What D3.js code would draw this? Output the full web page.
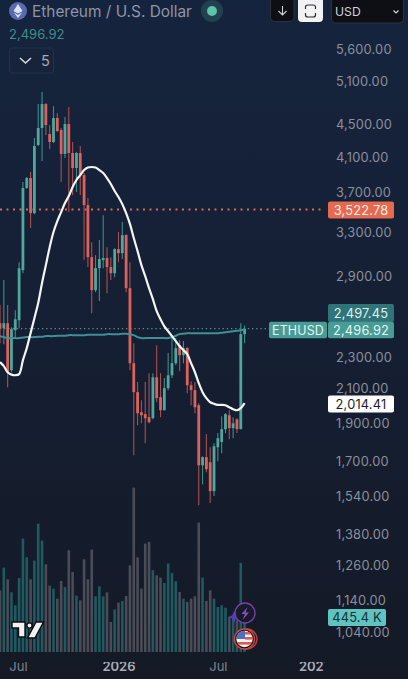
<!DOCTYPE html>
<html><head><meta charset="utf-8">
<script src="https://cdn.jsdelivr.net/npm/d3@7"></script>
<style>html,body{margin:0;padding:0;background:#141a28;overflow:hidden}svg{display:block}text{font-family:Inter,"Noto Sans",sans-serif}</style>
</head><body><div id="c"></div>
<script>
const opens=[2537,2500,2537,2215,2486,2559,2957,3749,3858,3486,4244,4458,4777,4381,4281,4588,4432,4135,4509,4147,3971,4147,3891,3568,3070,2791,2974,3044,3062,2983,2931,3142,3106,3272,2807,2260,2079,1962,1951,1934,1928,2170,2049,1973,2103,2183,2260,2381,2313,2361,2121,2091,2002,1683,1723,1698,1562,1773,1800,1868,1945,1874,1922,1868,2458];
const highs=[2673,2873,2673,2507,2634,3026,3814,3870,3925,4331,4777,4946,4791,4496,4749,4654,4458,4601,4736,4281,4159,4232,3914,3641,3206,3088,3225,3466,3160,3070,3151,3301,3398,3280,3026,2395,2140,2031,2140,2196,2196,2381,2196,2165,2327,2430,2430,2416,2409,2368,2146,2140,2014,1728,1842,1773,1794,1847,1939,1956,1973,1934,1928,2537,2521];
const lows=[2395,2388,2109,2202,2430,2500,2931,3738,3339,3476,4232,4052,4368,4195,4269,4406,3814,4088,3497,3673,3705,3673,3044,2983,2611,2775,2704,2974,2767,2873,2897,3026,3053,2775,2215,1733,1889,1900,1794,1900,1922,2019,1934,1973,2091,2165,2247,2209,2260,2073,2002,1956,1500,1593,1650,1509,1540,1703,1743,1847,1815,1820,1847,1868,2395];
const closes=[2500,2537,2202,2493,2566,2974,3749,3858,3486,4232,4458,4777,4496,4281,4588,4419,4135,4509,4147,3971,4147,3891,3568,3070,2791,2974,3053,3062,2983,2931,3142,3106,3272,2807,2260,2079,1956,1945,1928,1906,2170,2043,1973,2103,2183,2260,2361,2313,2361,2121,2091,1990,1683,1723,1664,1562,1778,1820,1868,1951,1874,1900,1868,2458,2496.92];
const volumesK=[808,1106,953,782,612,970,1486,1241,953,1197,1682,1460,1149,870,830,699,931,852,1333,1049,739,677,1215,953,1342,730,861,730,782,393,559,647,669,734,1136,2154,1241,830,1420,1442,1071,1005,975,905,1158,1036,926,787,699,656,699,730,1696,975,669,808,699,590,612,581,459,437,415,1167,445.4];
const whiteMA=[2267,2241,2202,2187,2183,2190,2280,2361,2465,2574,2690,2849,3000,3160,3301,3407,3497,3589,3662,3760,3836,3891,3948,3977,3983,3977,3948,3914,3858,3792,3716,3652,3578,3486,3379,3244,3124,3000,2906,2807,2720,2627,2566,2514,2479,2444,2409,2374,2347,2320,2260,2202,2134,2079,2043,2019,2010,2004,2004,2002,1990,1979,1973,1985,2014];
const tealMA=[2444,2437,2430,2430,2430,2430,2434,2437,2437,2437,2440,2440,2444,2444,2444,2447,2447,2447,2451,2451,2451,2451,2451,2454,2454,2454,2454,2454,2458,2458,2458,2458,2461,2461,2458,2451,2437,2430,2430,2430,2430,2430,2430,2430,2430,2437,2447,2458,2461,2465,2465,2465,2465,2465,2465,2465,2465,2465,2468,2472,2475,2479,2482,2486,2490];
const priceTicks=[5600,5100,4500,4100,3700,3300,2900,2300,2100,1900,1700,1540,1380,1260,1140,1040];
const timeTicks=[4.7,31,57,82.3];
const timeLabels=["Jul","2026","Jul","2027"];
const lastPrice=2496.92, prevPrice=2497.45, hLine=3522.78, maLast=2014.41;

const W=408,H=679;
const svg=d3.select("#c").append("svg").attr("width",W).attr("height",H);
const defs=svg.append("defs");
const g=defs.append("linearGradient").attr("id","bg").attr("x1",0).attr("x2",0).attr("y1",0).attr("y2",1);
g.append("stop").attr("offset","0").attr("stop-color","#15243e");
g.append("stop").attr("offset","0.5").attr("stop-color","#151f33");
g.append("stop").attr("offset","1").attr("stop-color","#141925");
svg.append("rect").attr("width",W).attr("height",H).attr("fill","url(#bg)");
defs.append("clipPath").attr("id","plot").append("rect").attr("x",0).attr("y",0).attr("width",325).attr("height",H);

const x=d3.scaleLinear().domain([0,64]).range([0,244.6]);
const y=d3.scaleLog().domain([1040,5600]).range([632,49]);
const v=d3.scaleLinear().domain([0,445.4]).range([652,618]);
const idx=d3.range(opens.length);
const plot=svg.append("g").attr("clip-path","url(#plot)");

// volume
plot.append("g").selectAll("rect").data(idx).join("rect")
 .attr("x",i=>x(i)-1.3).attr("width",2.6)
 .attr("y",i=>v(volumesK[i])).attr("height",i=>652-v(volumesK[i]))
 .attr("fill",i=>closes[i]>=opens[i]?"#1f5a60":"#4a4c57");

// horizontal lines
plot.append("line").attr("x1",0).attr("x2",327).attr("y1",y(hLine)).attr("y2",y(hLine))
 .attr("stroke","#e0665a").attr("stroke-width",2).attr("stroke-dasharray","2 4.5");
plot.append("line").attr("x1",0).attr("x2",269).attr("y1",y(lastPrice)).attr("y2",y(lastPrice))
 .attr("stroke","#5d8e90").attr("stroke-width",1.2).attr("stroke-dasharray","1.3 2.9");

const col=i=>closes[i]>=opens[i]?"#4fa79d":"#dc625e";
const wick=i=>closes[i]>=opens[i]?"#3f8c88":"#a9504f";
plot.append("g").selectAll("line").data(idx).join("line")
 .attr("x1",i=>x(i)).attr("x2",i=>x(i)).attr("y1",i=>y(highs[i])).attr("y2",i=>y(lows[i]))
 .attr("stroke",wick).attr("stroke-width",1.1);
plot.append("g").selectAll("rect").data(idx).join("rect")
 .attr("x",i=>x(i)-1.4).attr("width",2.8)
 .attr("y",i=>y(Math.max(opens[i],closes[i])))
 .attr("height",i=>Math.max(1,Math.abs(y(opens[i])-y(closes[i]))))
 .attr("fill",col);

const line=a=>d3.line().x(i=>x(i)).y(i=>y(a[i])).curve(d3.curveCatmullRom)(idx);
plot.append("path").attr("d",line(tealMA)).attr("fill","none").attr("stroke","#3f9094").attr("stroke-width",2);
plot.append("path").attr("d",line(whiteMA)).attr("fill","none").attr("stroke","#f4f5f5").attr("stroke-width",2.2);

// right axis
const axR=d3.axisRight(y).tickValues(priceTicks).tickSize(0).tickPadding(0).tickFormat(d3.format(",.2f"));
const ag=svg.append("g").attr("transform","translate(336,0)").call(axR);
ag.select(".domain").remove();
ag.selectAll("text").attr("fill","#8c909b").attr("font-size",12.8).attr("letter-spacing",0.2).attr("x",0).style("font-family","Inter");

// bottom axis
const axB=d3.axisBottom(x).tickValues(timeTicks).tickSize(0).tickPadding(0).tickFormat((d,i)=>timeLabels[i]);
const bg=svg.append("g").attr("transform","translate(0,662)").attr("clip-path","url(#plot)").call(axB);
bg.select(".domain").remove();
bg.selectAll("text").attr("font-size",13).style("font-family","Inter")
 .attr("fill",(d,i)=>i%2?"#a9adb7":"#7f838e").attr("font-weight",(d,i)=>i%2?600:400);

// price tags
function tag(x0,x1,py,h,fill,txt,tc,fs){
 svg.append("rect").attr("x",x0).attr("y",py-h/2).attr("width",x1-x0).attr("height",h).attr("rx",2).attr("fill",fill);
 svg.append("text").attr("x",(x0+x1)/2).attr("y",py+4.6).attr("text-anchor","middle").attr("fill",tc).attr("font-size",fs||12.8).attr("letter-spacing",0.2).text(txt);
}
tag(328,394,313,18,"#2f7478",d3.format(",.2f")(prevPrice),"#dff1ef");
tag(269,327,330,16.5,"#479c95","ETHUSD","#e6f4f2",12.4);
tag(328,394,330,16.5,"#479c95",d3.format(",.2f")(lastPrice),"#e6f4f2");
tag(328,394,210,17,"#e66a4f",d3.format(",.2f")(hLine),"#fdeee9");
tag(328,394,404,17,"#ffffff",d3.format(",.2f")(maLast),"#1b1e26");
tag(328,386,617.5,17,"#5fc4bf","445.4 K","#123338");

// header
svg.append("circle").attr("cx",18).attr("cy",11).attr("r",9).attr("fill","#5a6ab0");
svg.append("path").attr("d","M18 4 L22.5 11 L18 13.6 L13.5 11Z M13.8 12.4 L18 15 L22.2 12.4 L18 18Z").attr("fill","#dfe4f5");
svg.append("text").attr("x",32).attr("y",16.5).attr("fill","#8e94a6").attr("font-size",15.4).text("Ethereum / U.S. Dollar");
svg.append("circle").attr("cx",212).attr("cy",11).attr("r",11).attr("fill","#22404f");
svg.append("circle").attr("cx",212).attr("cy",11).attr("r",5).attr("fill","#5cc4a8");
svg.append("text").attr("x",9).attr("y",39).attr("fill","#3f8f8a").attr("font-size",13).text("2,496.92");
svg.append("rect").attr("x",9.5).attr("y",48).attr("width",44).attr("height",25).attr("rx",3).attr("fill","#17233a").attr("stroke","#273248");
svg.append("path").attr("d","M20 58 L25.5 63 L31 58").attr("fill","none").attr("stroke","#d5d8df").attr("stroke-width",1.6);
svg.append("text").attr("x",41).attr("y",66).attr("fill","#a5a9b4").attr("font-size",14.5).text("5");

svg.append("rect").attr("x",270.5).attr("y",-4).attr("width",23.5).attr("height",25.5).attr("rx",4).attr("fill","#0d0f14").attr("stroke","#2a3242");
svg.append("path").attr("d","M282.5 6 V15 M278.5 11 L282.5 15 L286.5 11").attr("fill","none").attr("stroke","#d0d2d6").attr("stroke-width",1.1);
svg.append("rect").attr("x",298).attr("y",-4).attr("width",25).attr("height",26).attr("rx",4).attr("fill","#f3f3f3");
svg.append("path").attr("d","M305.5 9 V7 Q305.5 5 308 5 H313 Q315.5 5 315.5 7 V9 M305.5 13 V15 Q305.5 17 308 17 H313 Q315.5 17 315.5 15 V13").attr("fill","none").attr("stroke","#2a2d33").attr("stroke-width",1.2);
svg.append("rect").attr("x",331.5).attr("y",-4).attr("width",72).attr("height",27).attr("rx",4).attr("fill","#0d0f14").attr("stroke","#2a3242");
svg.append("text").attr("x",335).attr("y",15.5).attr("fill","#d0d2d6").attr("font-size",12.2).text("USD");
svg.append("path").attr("d","M393.5 10.5 L396 13 L398.5 10.5").attr("fill","none").attr("stroke","#d0d2d6").attr("stroke-width",1.2);

// TradingView logo
const tv=svg.append("g").attr("stroke","#0b0d12").attr("stroke-width",1.4).attr("fill","#f1f1f1");
tv.append("path").attr("d","M12 622 H25 V637 H18.5 V628 H12Z");
tv.append("circle").attr("cx",29.5).attr("cy",625.5).attr("r",2.6);
tv.append("path").attr("d","M36 622 H43.5 L35 638 H27.5Z");

// event icons
svg.append("path").attr("d","M234 611 L236 615.5 L240 617 L236 618.5 L234 623 L232 618.5 L228 617 L232 615.5Z").attr("fill","#4b3fc0");
svg.append("circle").attr("cx",245).attr("cy",613).attr("r",10).attr("fill","#171a28").attr("stroke","#7a3fa8").attr("stroke-width",1.4);
svg.append("path").attr("d","M247.5 607 L241.5 614 H245 L242.5 620 L249 612.5 H245.5Z").attr("fill","#8d4cc4");
svg.append("circle").attr("cx",247).attr("cy",639).attr("r",10).attr("fill","#171a28").attr("stroke","#b8403f").attr("stroke-width",1.4);
svg.append("circle").attr("cx",244.5).attr("cy",639).attr("r",10).attr("fill","#0c0d12").attr("stroke","#cf4845").attr("stroke-width",1.4);
const fc=defs.append("clipPath").attr("id","flag");fc.append("circle").attr("cx",244.5).attr("cy",639).attr("r",8.2);
const fl=svg.append("g").attr("clip-path","url(#flag)");
fl.append("rect").attr("x",235).attr("y",630).attr("width",20).attr("height",18).attr("fill","#f3f0f0");
fl.append("rect").attr("x",245).attr("y",632).attr("width",10).attr("height",2.6).attr("fill","#dd5a55");
fl.append("rect").attr("x",245).attr("y",637).attr("width",10).attr("height",2.6).attr("fill","#dd5a55");
fl.append("rect").attr("x",235).attr("y",642).attr("width",20).attr("height",2.6).attr("fill","#dd5a55");
fl.append("rect").attr("x",235).attr("y",630).attr("width",10).attr("height",9).attr("fill","#4f6fc0");
</script></body></html>
